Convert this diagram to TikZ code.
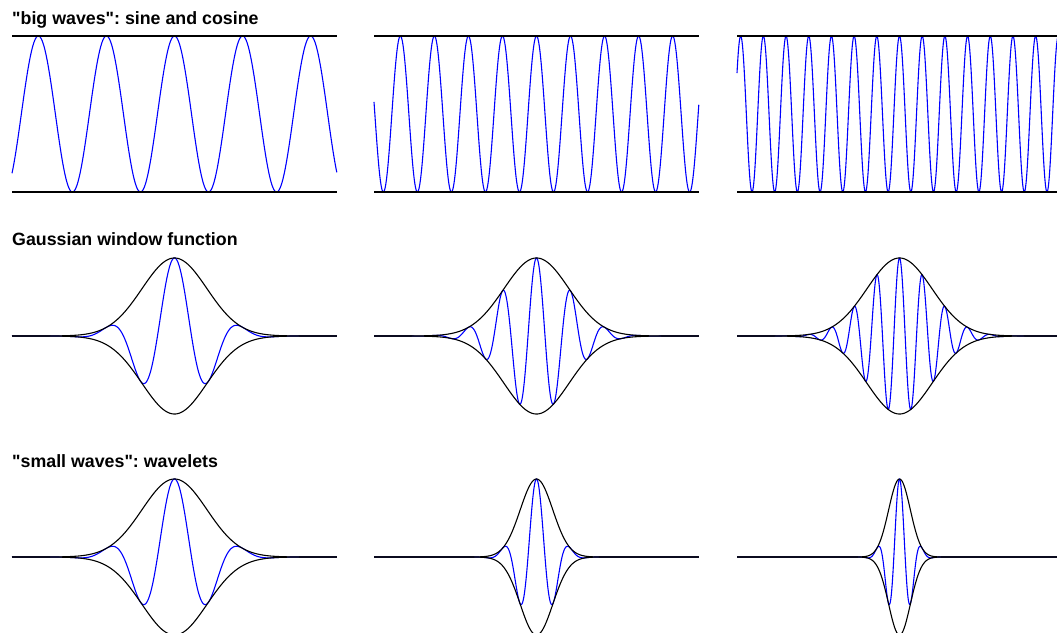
\documentclass[tikz,border=0pt]{standalone}
\usepackage{fontspec}
\setmainfont{Liberation Sans}
\usepackage{tikz}
\frenchspacing
\definecolor{wblue}{RGB}{0,0,255}
\definecolor{wdark}{RGB}{0,0,0}
\tikzset{
  rowtitle/.style={anchor=base west, inner sep=0pt,
    font=\bfseries\fontsize{17.8}{20}\selectfont},
  wave/.style={color=wblue, line width=1.1pt, samples=700},
  envline/.style={color=wdark, line width=1.1pt, samples=300}
}

\begin{document}
\begin{tikzpicture}[x=1pt, y=1pt]
  \clip (0,0) rectangle (1057,632);

  % Row 1: sine and cosine
  \node[rowtitle] (ttlbig) at (12,607) {\textquotedbl big waves\textquotedbl: sine and cosine};
  \foreach \cx/\w in {174.5/3, 536.5/6, 899.5/9} {
    \begin{scope}[shift={(\cx,518)}, x=32.5pt, y=78pt]
      \draw[wave] plot[domain=-5:5] (\x, {cos(\w*\x r)});
      \draw[envline] (-5,1) -- (5,1);
      \draw[envline] (-5,-1) -- (5,-1);
    \end{scope}
  }

  % Row 2: same Gaussian window
  \node[rowtitle] (ttlgauss) at (12,386) {Gaussian window function};
  \foreach \cx/\w in {174.5/3, 536.5/6, 899.5/9} {
    \begin{scope}[shift={(\cx,296)}, x=32.5pt, y=78pt]
      \draw[wave] plot[domain=-5:5] (\x, {exp(max(-9,-\x*\x/2))*cos(\w*\x r)});
      \draw[envline] plot[domain=-5:5] (\x, {exp(max(-9,-\x*\x/2))});
      \draw[envline] plot[domain=-5:5] (\x, {-exp(max(-9,-\x*\x/2))});
    \end{scope}
  }

  % Row 3: window shrinks with frequency
  \node[rowtitle] (ttlsmall) at (12,164) {\textquotedbl small waves\textquotedbl: wavelets};
  \foreach \cx/\s in {174.5/1, 536.5/2, 899.5/3} {
    \begin{scope}[shift={(\cx,75)}, x=32.5pt, y=78pt]
      \draw[wave] plot[domain=-5:5] (\x, {exp(max(-9,-(\s*\x)^2/2))*cos(3*\s*\x r)});
      \draw[envline] plot[domain=-5:5] (\x, {exp(max(-9,-(\s*\x)^2/2))});
      \draw[envline] plot[domain=-5:5] (\x, {-exp(max(-9,-(\s*\x)^2/2))});
    \end{scope}
  }
\end{tikzpicture}
\end{document}
